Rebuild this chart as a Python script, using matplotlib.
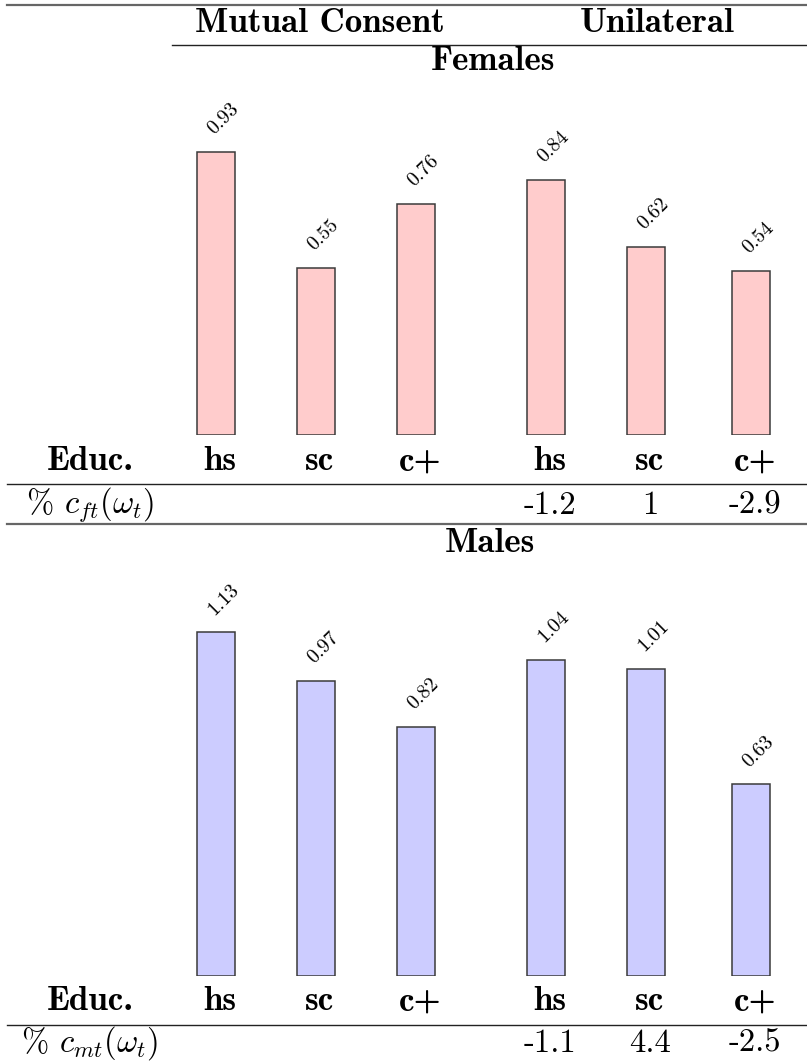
import numpy as np
import matplotlib
matplotlib.use('Agg')
import matplotlib.pyplot as plt
from matplotlib.lines import Line2D

plt.rcParams['font.family'] = ['cmr10']
plt.rcParams['mathtext.fontset'] = 'cm'
plt.rcParams['axes.formatter.use_mathtext'] = True

# data
regimes = ["Mutual Consent", "Unilateral"]
educ = ["hs", "sc", "c+", "hs", "sc", "c+"]
females = [0.93, 0.55, 0.76, 0.84, 0.62, 0.54]
males = [1.13, 0.97, 0.82, 1.04, 1.01, 0.63]
pct_f = ["", "", "", "-1.2", "1", "-2.9"]
pct_m = ["", "", "", "-1.1", "4.4", "-2.5"]

W, H = 807, 1062
fig = plt.figure(figsize=(W / 100, H / 100), dpi=100)

# layout (pixels)
xpos = [216, 316, 416, 546, 646, 751]
text_dx = 4
bar_w = 38
px_per_unit = 304
bold_fs = 25.2
reg_fs = 23.5


def fx(x):
    return x / W


def fy(y):
    return 1 - y / H


def hline(y, x0=7, x1=W, lw=1.0, color='#222222'):
    fig.add_artist(Line2D([fx(x0), fx(x1)], [fy(y), fy(y)],
                          transform=fig.transFigure, lw=lw, color=color))


def bars(values, y_bottom, y_top, fill):
    ax = fig.add_axes([0, fy(y_bottom), 1, (y_bottom - y_top) / H])
    ax.set_xlim(0, W)
    ax.set_ylim(0, (y_bottom - y_top) / px_per_unit)
    ax.bar(xpos, values, width=bar_w, color=fill, edgecolor='#3a3a3a', linewidth=1.1)
    for x, v in zip(xpos, values):
        ax.annotate(f"{v:.2f}", (x, v), xytext=(7, 33), textcoords='offset pixels',
                    rotation=45, ha='center', va='center', fontsize=14.5,
                    annotation_clip=False)
    ax.axis('off')
    return ax


def educ_rows(y_educ, y_line, y_pct, pct, label):
    fig.text(fx(90), fy(y_educ), "Educ.", family='cmb10', fontsize=bold_fs,
             ha='center', va='center')
    for x, e in zip(xpos, educ):
        fig.text(fx(x + text_dx), fy(y_educ), e, family='cmb10', fontsize=bold_fs,
                 ha='center', va='center')
    hline(y_line)
    fig.text(fx(90), fy(y_pct), label, fontsize=reg_fs, ha='center', va='center')
    for x, p in zip(xpos, pct):
        if p:
            fig.text(fx(x + text_dx), fy(y_pct), p, fontsize=reg_fs,
                     ha='center', va='center')


# header
hline(5, lw=1.6, color='#666666')
fig.text(fx(320), fy(24), regimes[0], family='cmb10', fontsize=bold_fs, ha='center', va='center')
fig.text(fx(657), fy(24), regimes[1], family='cmb10', fontsize=bold_fs, ha='center', va='center')
hline(45, x0=172)

# females
fig.text(fx(493), fy(62), "Females", family='cmb10', fontsize=bold_fs, ha='center', va='center')
bars(females, 435, 90, '#ffcccc')
educ_rows(462, 484, 505, pct_f, r"% $c_{ft}(\omega_t)$")
hline(524, lw=1.6, color='#666666')

# males
fig.text(fx(490), fy(543), "Males", family='cmb10', fontsize=bold_fs, ha='center', va='center')
bars(males, 976, 570, '#ccccff')
educ_rows(1002, 1025, 1043, pct_m, r"% $c_{mt}(\omega_t)$")

fig.savefig("out.png", dpi=100)
